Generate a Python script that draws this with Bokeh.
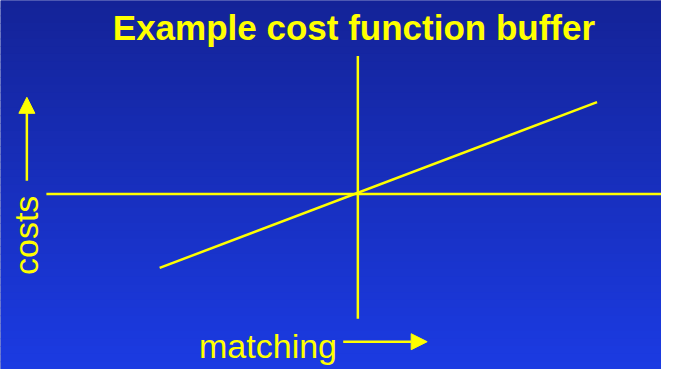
from bokeh.plotting import figure
from bokeh.models import Range1d, Arrow, NormalHead, Label
from bokeh.embed import file_html
from bokeh.resources import INLINE

# Data (conceptual units: origin at the crossing of the axes)
cost_matching = [-203, 245]
cost_values = [-77, 96]
h_axis_x = [-319, 311]
h_axis_y = [0, 0]
v_axis_x = [0, 0]
v_axis_y = [-130, 144]

title_text = "Example cost function buffer"
x_label = "matching"
y_label = "costs"

YEL = "#ffff00"
W, H = 661, 369

p = figure(width=W, height=H, output_backend="svg", toolbar_location=None,
           x_range=Range1d(-366, 311), y_range=Range1d(-183, 202),
           min_border=0)
p.axis.visible = False
p.grid.visible = False
p.outline_line_color = None
p.background_fill_color = "#14239a"
p.border_fill_color = "#14239a"

# vertical gradient background (styling only)
n = 48
top = (0x14, 0x23, 0x98)
bot = (0x1b, 0x3b, 0xe2)
tops, bots, cols = [], [], []
for i in range(n):
    t = i / (n - 1)
    c = tuple(int(round(top[k] + (bot[k] - top[k]) * t)) for k in range(3))
    y0 = 202 - 385 * i / n
    y1 = 202 - 385 * (i + 1) / n
    tops.append(y0 + 0.5)
    bots.append(y1 - 0.5)
    cols.append("#%02x%02x%02x" % c)
p.quad(left=-366, right=311, top=tops, bottom=bots, fill_color=cols, line_color=None)

p.line(h_axis_x, h_axis_y, line_color=YEL, line_width=2.5)
p.line(v_axis_x, v_axis_y, line_color=YEL, line_width=2.5)
p.line(cost_matching, cost_values, line_color=YEL, line_width=2.5)

p.add_layout(Arrow(end=NormalHead(size=16, fill_color=YEL, line_color=YEL),
                   x_start=-339, y_start=14, x_end=-339, y_end=101,
                   line_color=YEL, line_width=2.5))
p.add_layout(Arrow(end=NormalHead(size=16, fill_color=YEL, line_color=YEL),
                   x_start=-15, y_start=-154, x_end=71, y_end=-154,
                   line_color=YEL, line_width=2.5))

p.add_layout(Label(x=-4, y=174, text=title_text, text_align="center",
                   text_baseline="middle", text_color=YEL,
                   text_font="Liberation Sans", text_font_style="bold",
                   text_font_size="35px"))
p.add_layout(Label(x=-92, y=-158, text=x_label, text_align="center",
                   text_baseline="middle", text_color=YEL,
                   text_font="Liberation Sans", text_font_size="34px"))
p.add_layout(Label(x=-340, y=-43, text=y_label, text_align="center",
                   text_baseline="middle", angle=1.5708, text_color=YEL,
                   text_font="Liberation Sans", text_font_size="34px"))

open("out.html", "w").write(file_html(p, INLINE))
